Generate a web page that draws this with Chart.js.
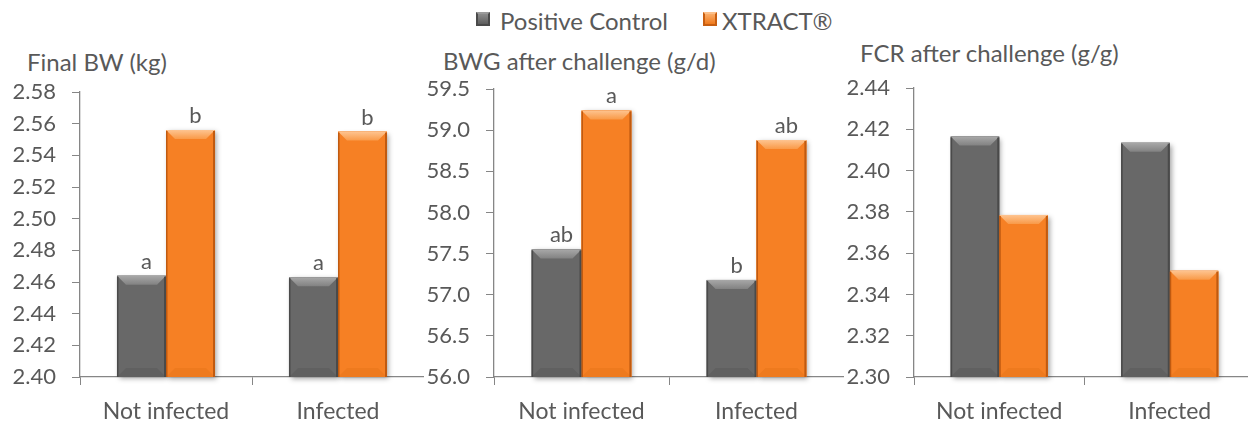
<!DOCTYPE html>
<html>
<head>
<meta charset="utf-8">
<script src="https://cdn.jsdelivr.net/npm/chart.js@4"></script>
<style>
  html, body { margin: 0; padding: 0; background: #fff; overflow: hidden; }
  body { width: 1248px; height: 425px; position: relative; font-family: Lato, sans-serif; color: #595959; }
  .box { position: absolute; top: 0; height: 425px; }
  .titulo { position: absolute; font-size: 24px; line-height: 24px; white-space: nowrap; }
  .leg { position: absolute; font-size: 24px; line-height: 24px; white-space: nowrap; top: 9px; }
  .sq { position: absolute; top: 12px; width: 14px; height: 14px; box-sizing: border-box; }
</style>
</head>
<body>
<span class="sq" style="left:476px;background:linear-gradient(#8c8c8c,#5e5e5e);border:2px solid #4a4a4a;border-top-color:#9a9a9a;"></span>
<span class="leg" style="left:500px;">Positive Control</span>
<span class="sq" style="left:703px;background:linear-gradient(#fbae6a,#f07a1c);border:2px solid #c85e10;border-top-color:#fcc08a;"></span>
<span class="leg" style="left:722px;">XTRACT®</span>
<div class="titulo" style="left:27px;top:50px;">Final BW (kg)</div>
<div class="titulo" style="left:443px;top:49px;">BWG after challenge (g/d)</div>
<div class="titulo" style="left:860px;top:41px;">FCR after challenge (g/g)</div>

<div class="box" style="left:0;width:424px;"><canvas id="chartBW"></canvas></div>
<div class="box" style="left:424px;width:420px;"><canvas id="chartBWG"></canvas></div>
<div class="box" style="left:844px;width:411px;"><canvas id="chartFCR"></canvas></div>

<script>
// dados
const categorias = ['Not infected', 'Infected'];

const bwControle = [2.464, 2.463];
const bwXtract = [2.556, 2.555];
const bwLetras = [['a', 'a'], ['b', 'b']];
const bwEixo = [2.40, 2.58, 0.02];

const bwgControle = [57.55, 57.18];
const bwgXtract = [59.24, 58.88];
const bwgLetras = [['ab', 'b'], ['a', 'ab']];
const bwgEixo = [56.0, 59.5, 0.5];

const fcrControle = [2.4165, 2.4135];
const fcrXtract = [2.3785, 2.3515];
const fcrLetras = [['', ''], ['', '']];
const fcrEixo = [2.30, 2.44, 0.02];

const cinza = '#686868';
const laranja = '#f68024';
const corTexto = '#595959';
const corEixo = '#868686';
const fonte = 'Lato';

function caixa(chart, bar) {
    const p = bar.getProps(['x', 'y', 'base', 'width'], true);
    const area = chart.chartArea;
    const y0 = Math.max(Math.min(p.y, p.base), area.top);
    const y1 = Math.min(Math.max(p.y, p.base), area.bottom);
    return { x0: p.x - p.width / 2, x1: p.x + p.width / 2, y0, y1 };
}

const estilos = [
    { topo: ['#a8a8a8', '#828282'], base: '#606060', lado: '#4a4a4a' },
    { topo: ['#fec490', '#f99a48'], base: '#ee7a1e', lado: '#c05a10' }
];

const pluginBisel = {
    id: 'bisel',
    beforeDatasetsDraw(chart) {
        const ctx = chart.ctx;
        ctx.save();
        ctx.shadowColor = 'rgba(0,0,0,0.35)';
        ctx.shadowBlur = 5;
        ctx.shadowOffsetX = 2;
        ctx.shadowOffsetY = 2;
        chart.data.datasets.forEach((ds, i) => {
            chart.getDatasetMeta(i).data.forEach((bar) => {
                const b = caixa(chart, bar);
                ctx.fillStyle = ds.backgroundColor;
                ctx.fillRect(b.x0, b.y0, b.x1 - b.x0, b.y1 - b.y0);
            });
        });
        ctx.restore();
    },
    afterDatasetsDraw(chart) {
        const ctx = chart.ctx;
        const letras = chart.options.plugins.bisel.letras;
        ctx.save();
        chart.data.datasets.forEach((ds, i) => {
            const est = estilos[i];
            chart.getDatasetMeta(i).data.forEach((bar, j) => {
                const b = caixa(chart, bar);
                const t = 9;
                // topo
                const g = ctx.createLinearGradient(0, b.y0, 0, b.y0 + t);
                g.addColorStop(0, est.topo[0]);
                g.addColorStop(1, est.topo[1]);
                ctx.fillStyle = g;
                ctx.beginPath();
                ctx.moveTo(b.x0, b.y0);
                ctx.lineTo(b.x1, b.y0);
                ctx.lineTo(b.x1 - t, b.y0 + t);
                ctx.lineTo(b.x0 + t, b.y0 + t);
                ctx.closePath();
                ctx.fill();
                // base
                ctx.fillStyle = est.base;
                ctx.beginPath();
                ctx.moveTo(b.x0, b.y1);
                ctx.lineTo(b.x1, b.y1);
                ctx.lineTo(b.x1 - t, b.y1 - t);
                ctx.lineTo(b.x0 + t, b.y1 - t);
                ctx.closePath();
                ctx.fill();
                // laterais
                ctx.fillStyle = est.lado;
                ctx.fillRect(b.x0, b.y0 + 1, 1.5, b.y1 - b.y0 - 1);
                ctx.fillRect(b.x1 - 2, b.y0 + 1, 2, b.y1 - b.y0 - 1);
                // letra
                const letra = letras[i][j];
                if (letra) {
                    ctx.fillStyle = corTexto;
                    ctx.font = '22px ' + fonte;
                    ctx.textAlign = 'center';
                    ctx.textBaseline = 'alphabetic';
                    ctx.fillText(letra, (b.x0 + b.x1) / 2 + 5, b.y0 - 7);
                }
            });
        });
        ctx.restore();
    }
};

function criarGrafico(id, controle, xtract, letras, eixo, casas, larguraEixo, topo) {
    const ctx = document.getElementById(id).getContext('2d');
    return new Chart(ctx, {
        type: 'bar',
        data: {
            labels: categorias,
            datasets: [
                { label: 'Positive Control', data: controle, backgroundColor: cinza, borderWidth: 0 },
                { label: 'XTRACT®', data: xtract, backgroundColor: laranja, borderWidth: 0 }
            ]
        },
        plugins: [pluginBisel],
        options: {
            responsive: true,
            maintainAspectRatio: false,
            animation: false,
            layout: { padding: { top: topo, bottom: 0, left: 0, right: 0 } },
            datasets: { bar: { categoryPercentage: 0.57, barPercentage: 1 } },
            plugins: {
                legend: { display: false },
                tooltip: { enabled: false },
                bisel: { letras }
            },
            scales: {
                x: {
                    grid: { display: true, drawOnChartArea: false, offset: true, tickLength: 8, color: corEixo },
                    border: { color: corEixo, width: 1.3 },
                    ticks: { color: corTexto, font: { family: fonte, size: 23 }, padding: 13 },
                    afterFit: (s) => { s.height = 48; }
                },
                y: {
                    min: eixo[0],
                    max: eixo[1],
                    grid: { display: true, drawOnChartArea: false, tickLength: 8, color: corEixo },
                    border: { color: corEixo, width: 1.3 },
                    ticks: {
                        stepSize: eixo[2],
                        color: corTexto,
                        font: { family: fonte, size: 22 },
                        padding: 16,
                        callback: (v) => Number(v).toFixed(casas)
                    },
                    afterFit: (s) => { s.width = larguraEixo; }
                }
            }
        }
    });
}

criarGrafico('chartBW', bwControle, bwXtract, bwLetras, bwEixo, 2, 80, 92);
criarGrafico('chartBWG', bwgControle, bwgXtract, bwgLetras, bwgEixo, 1, 70, 89);
criarGrafico('chartFCR', fcrControle, fcrXtract, fcrLetras, fcrEixo, 2, 70, 88);
</script>
</body>
</html>
